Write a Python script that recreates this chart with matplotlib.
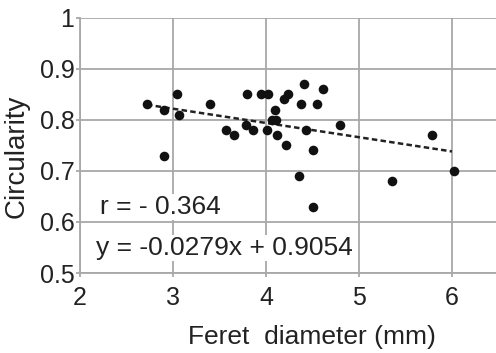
import numpy as np
import matplotlib
matplotlib.use("Agg")
import matplotlib.pyplot as plt

plt.rcParams['font.family'] = ['Liberation Sans', 'DejaVu Sans']

feret = [2.72, 2.90, 3.04, 3.06, 2.90, 3.40, 3.80, 3.95, 4.02, 4.19,
         4.24, 4.10, 4.41, 4.61, 4.38, 4.55, 4.06, 4.11, 3.79, 3.57,
         3.66, 3.86, 4.01, 4.12, 4.43, 4.21, 4.51, 4.80, 4.35, 5.79,
         5.36, 6.02, 4.51]
circ = [0.83, 0.82, 0.85, 0.81, 0.73, 0.83, 0.85, 0.85, 0.85, 0.84,
        0.85, 0.82, 0.87, 0.86, 0.83, 0.83, 0.80, 0.80, 0.79, 0.78,
        0.77, 0.78, 0.78, 0.77, 0.78, 0.75, 0.74, 0.79, 0.69, 0.77,
        0.68, 0.70, 0.63]

slope = -0.0279
intercept = 0.9054

grid_col = '#a8a8a8'
txt_col = '#222222'

fig = plt.figure(figsize=(4.96, 3.53), dpi=100)
ax = fig.add_axes([0.1613, 0.2266, 0.8387, 0.7234])

ax.scatter(feret, circ, s=48, color='#111111', zorder=3, linewidths=0)

xl = np.array([min(feret), 6.0])
ax.plot(xl, slope * xl + intercept, color=txt_col, linestyle=(0, (2.2, 1.3)),
        linewidth=1.8, zorder=2)

ax.set_xlim(2, 2 + 416 / 93)
ax.set_ylim(0.5, 1.0)
ax.set_xticks([2, 3, 4, 5, 6])
ax.set_yticks([0.5, 0.6, 0.7, 0.8, 0.9, 1.0])
ax.set_yticklabels(['0.5', '0.6', '0.7', '0.8', '0.9', '1'])
ax.grid(True, color=grid_col, linewidth=1.3, zorder=0)
ax.set_axisbelow(True)

for s in ['top', 'right']:
    ax.spines[s].set_visible(False)
for s in ['left', 'bottom']:
    ax.spines[s].set_color(grid_col)
    ax.spines[s].set_linewidth(1.3)
ax.tick_params(axis='both', colors=grid_col, labelcolor=txt_col,
               labelsize=18, length=3, width=1.3, pad=1)
ax.tick_params(axis='x', pad=6)

fig.text(312 / 496, 1 - 337 / 353, 'Feret  diameter (mm)', fontsize=19,
         color=txt_col, ha='center', va='center')
fig.text(17 / 496, 1 - 156 / 353, 'Circularity', fontsize=20, rotation=90,
         color=txt_col, ha='center', va='center')

box = dict(facecolor='white', edgecolor='none', pad=1)
ax.text(2.22, 0.629, 'r = - 0.364', fontsize=19, color=txt_col,
        va='center', ha='left', bbox=box, zorder=4)
ax.text(2.17, 0.549, 'y = -0.0279x + 0.9054', fontsize=19, color=txt_col,
        va='center', ha='left', bbox=box, zorder=4)

fig.savefig('out.png', dpi=100)
